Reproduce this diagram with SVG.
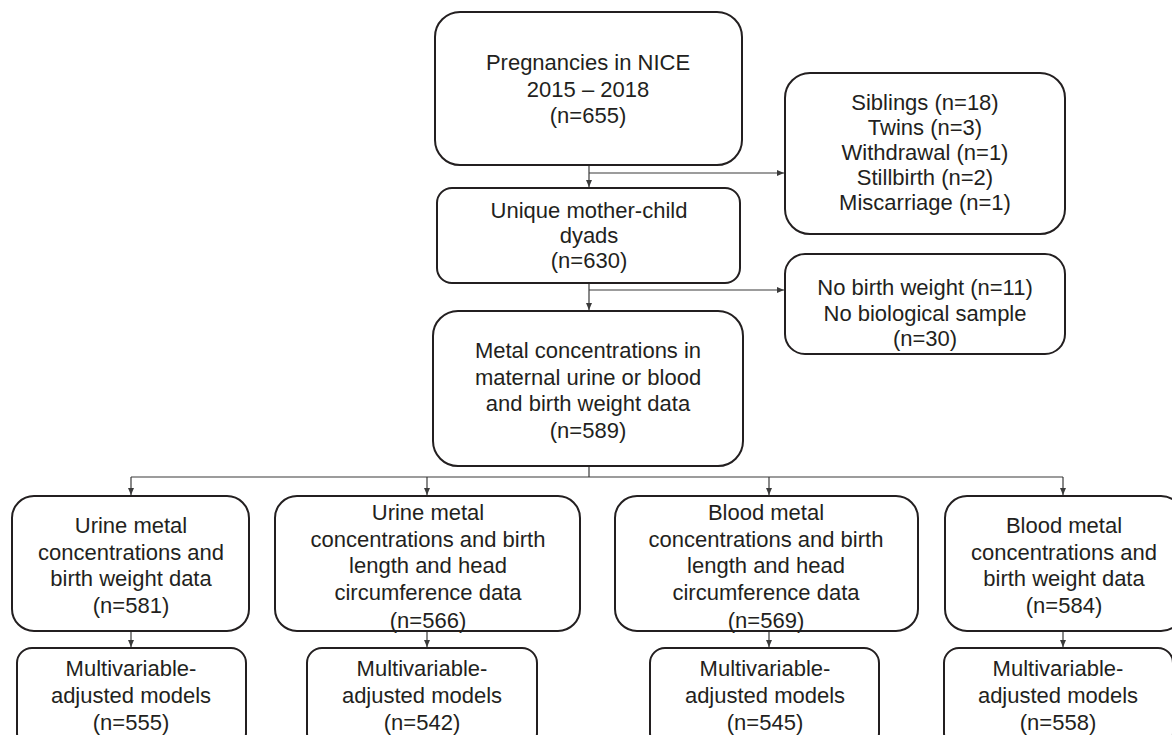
<svg xmlns="http://www.w3.org/2000/svg" width="1172" height="735" viewBox="0 0 1172 735">
<style>
.box{fill:#fff;stroke:#231f20;stroke-width:2}
.t{font-family:"Liberation Sans",Arial,sans-serif;font-size:22px;fill:#231f20;text-anchor:middle}
.c{fill:none;stroke:#3a3a3a;stroke-width:1.2}
</style>
<defs>
<marker id="ah" markerWidth="8" markerHeight="8" refX="7" refY="4" orient="auto" markerUnits="userSpaceOnUse">
<path d="M0,1 L7,4 L0,7 Z" fill="#3a3a3a"/>
</marker>
</defs>
<rect width="1172" height="735" fill="#fff"/>
<g id="connectors">
<path class="c" d="M589,165 V187" marker-end="url(#ah)"/>
<path class="c" d="M589,173 H784" marker-end="url(#ah)"/>
<path class="c" d="M589,283 V310" marker-end="url(#ah)"/>
<path class="c" d="M589,290 H784" marker-end="url(#ah)"/>
<path class="c" d="M589,466 V477 M131,477 H1063"/>
<path class="c" d="M131,477 V495" marker-end="url(#ah)"/>
<path class="c" d="M427,477 V495" marker-end="url(#ah)"/>
<path class="c" d="M769,477 V495" marker-end="url(#ah)"/>
<path class="c" d="M1063,477 V495" marker-end="url(#ah)"/>
<path class="c" d="M131,631 V647" marker-end="url(#ah)"/>
<path class="c" d="M427,631 V647" marker-end="url(#ah)"/>
<path class="c" d="M769,631 V647" marker-end="url(#ah)"/>
<path class="c" d="M1063,631 V647" marker-end="url(#ah)"/>
</g>
<g id="n1">
<rect class="box" x="435" y="12" width="307" height="153" rx="25"/>
<text class="t"><tspan x="588" y="70">Pregnancies in NICE</tspan><tspan x="588" y="96.5">2015 – 2018</tspan><tspan x="588" y="123">(n=655)</tspan></text>
</g>
<g id="n2">
<rect class="box" x="437" y="188" width="303" height="95" rx="15"/>
<text class="t"><tspan x="589" y="218">Unique mother-child</tspan><tspan x="589" y="243">dyads</tspan><tspan x="589" y="268">(n=630)</tspan></text>
</g>
<g id="ex1">
<rect class="box" x="785" y="73" width="280" height="161" rx="25"/>
<text class="t"><tspan x="925" y="110">Siblings (n=18)</tspan><tspan x="925" y="135">Twins (n=3)</tspan><tspan x="925" y="160">Withdrawal (n=1)</tspan><tspan x="925" y="185">Stillbirth (n=2)</tspan><tspan x="925" y="210">Miscarriage (n=1)</tspan></text>
</g>
<g id="ex2">
<rect class="box" x="785" y="254" width="280" height="100" rx="20"/>
<text class="t"><tspan x="925" y="295">No birth weight (n=11)</tspan><tspan x="925" y="321">No biological sample</tspan><tspan x="925" y="346">(n=30)</tspan></text>
</g>
<g id="n3">
<rect class="box" x="433" y="311" width="310" height="155" rx="25"/>
<text class="t"><tspan x="588" y="358">Metal concentrations in</tspan><tspan x="588" y="385">maternal urine or blood</tspan><tspan x="588" y="411">and birth weight data</tspan><tspan x="588" y="438">(n=589)</tspan></text>
</g>
<g id="a1">
<rect class="box" x="12" y="496" width="237" height="135" rx="22"/>
<text class="t"><tspan x="131" y="533">Urine metal</tspan><tspan x="131" y="560">concentrations and</tspan><tspan x="131" y="586">birth weight data</tspan><tspan x="131" y="613">(n=581)</tspan></text>
</g>
<g id="b1">
<rect class="box" x="275" y="496" width="305" height="135" rx="22"/>
<text class="t"><tspan x="428" y="520">Urine metal</tspan><tspan x="428" y="547">concentrations and birth</tspan><tspan x="428" y="573">length and head</tspan><tspan x="428" y="600">circumference data</tspan><tspan x="428" y="628">(n=566)</tspan></text>
</g>
<g id="c1">
<rect class="box" x="615" y="496" width="303" height="135" rx="22"/>
<text class="t"><tspan x="766" y="520">Blood metal</tspan><tspan x="766" y="547">concentrations and birth</tspan><tspan x="766" y="573">length and head</tspan><tspan x="766" y="600">circumference data</tspan><tspan x="766" y="628">(n=569)</tspan></text>
</g>
<g id="d1">
<rect class="box" x="945" y="496" width="238" height="135" rx="22"/>
<text class="t"><tspan x="1064" y="533">Blood metal</tspan><tspan x="1064" y="560">concentrations and</tspan><tspan x="1064" y="586">birth weight data</tspan><tspan x="1064" y="613">(n=584)</tspan></text>
</g>
<g id="a2">
<rect class="box" x="17" y="648" width="229" height="100" rx="15"/>
<text class="t"><tspan x="131" y="676">Multivariable-</tspan><tspan x="131" y="703">adjusted models</tspan><tspan x="131" y="730">(n=555)</tspan></text>
</g>
<g id="b2">
<rect class="box" x="307" y="648" width="230" height="100" rx="15"/>
<text class="t"><tspan x="422" y="676">Multivariable-</tspan><tspan x="422" y="703">adjusted models</tspan><tspan x="422" y="730">(n=542)</tspan></text>
</g>
<g id="c2">
<rect class="box" x="650" y="648" width="229" height="100" rx="15"/>
<text class="t"><tspan x="765" y="676">Multivariable-</tspan><tspan x="765" y="703">adjusted models</tspan><tspan x="765" y="730">(n=545)</tspan></text>
</g>
<g id="d2">
<rect class="box" x="944" y="648" width="229" height="100" rx="15"/>
<text class="t"><tspan x="1058" y="676">Multivariable-</tspan><tspan x="1058" y="703">adjusted models</tspan><tspan x="1058" y="730">(n=558)</tspan></text>
</g>
</svg>
